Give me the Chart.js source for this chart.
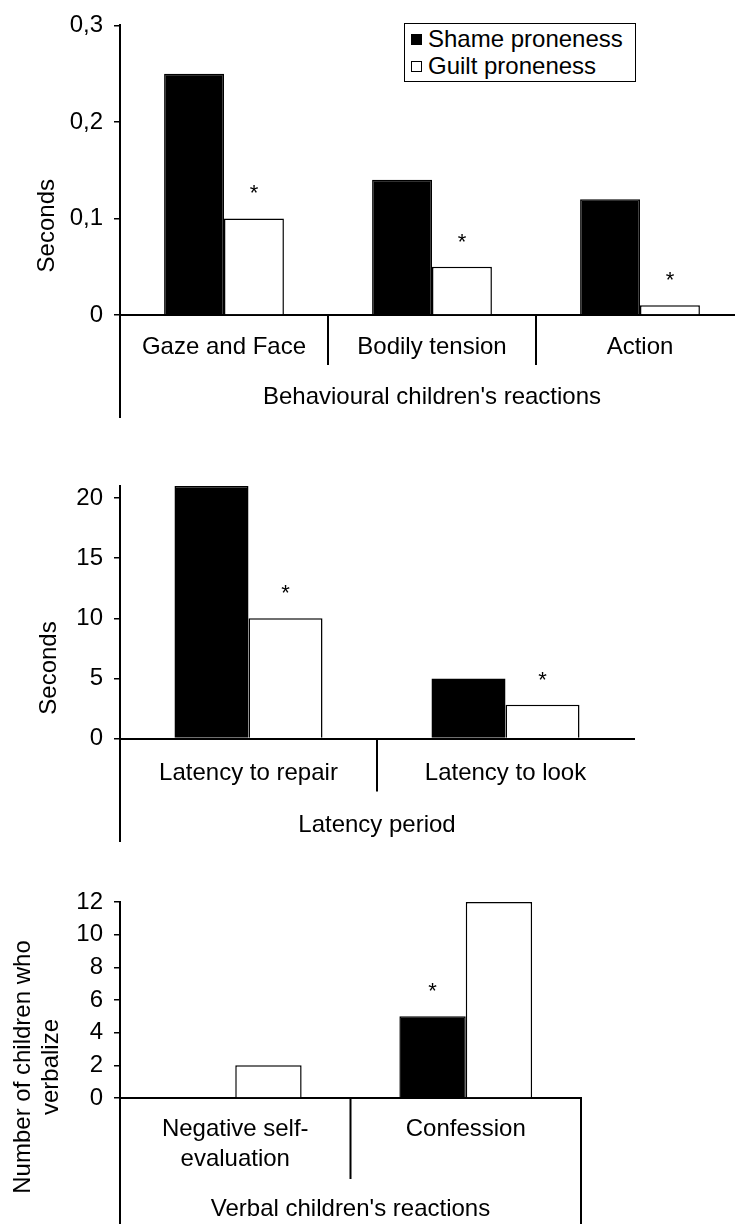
<!DOCTYPE html>
<html>
<head>
<meta charset="utf-8">
<script src="https://cdn.jsdelivr.net/npm/chart.js@4.4.0/dist/chart.umd.min.js"></script>
<style>
  body { margin: 0; background: #fff; }
  #page { position: relative; width: 735px; height: 1224px; overflow: hidden; }
  canvas { position: absolute; left: 0; }
  #legend {
    position: absolute; left: 404px; top: 23px; width: 232px; height: 59px;
    box-sizing: border-box; border: 1.5px solid #000; background: #fff;
    font: 24px 'Liberation Sans', Arial, sans-serif; line-height: 27px; padding-top: 1px;
  }
  #legend div { white-space: nowrap; }
  #legend span { display: inline-block; width: 9px; height: 9px; border: 1.5px solid #000; margin: 0 6px 0 6px; vertical-align: 2px; }
</style>
</head>
<body>
<div id="page">
  <canvas id="behav" width="744" height="418" style="top:0px"></canvas>
  <canvas id="latency" width="735" height="402" style="top:440px"></canvas>
  <canvas id="verbal" width="735" height="364" style="top:860px"></canvas>
  <div id="legend"></div>
</div>
<script>
// series
const seriesNames = ['Shame proneness', 'Guilt proneness'];
const seriesColors = ['#000000', '#ffffff'];

// behavioural reactions (seconds)
const behavCategories = ['Gaze and Face', 'Bodily tension', 'Action'];
const behavShame = [0.25, 0.14, 0.12];
const behavGuilt = [0.10, 0.05, 0.01];
const behavTicks = ['0', '0,1', '0,2', '0,3'];
const behavStars = [[1, 0], [1, 1], [1, 2]];

// latency period (seconds)
const latCategories = ['Latency to repair', 'Latency to look'];
const latShame = [21, 5];
const latGuilt = [10, 2.8];
const latStars = [[1, 0], [1, 1]];

// verbal reactions (number of children)
const verbCategories = [['Negative self-', 'evaluation'], 'Confession'];
const verbShame = [0, 5];
const verbGuilt = [2, 12];
const verbStars = [[0, 1]];

const FONT = "'Liberation Sans', Arial, sans-serif";
Chart.defaults.font.family = FONT;
Chart.defaults.color = '#000';

// excel style frame: axis running down through the labels, separators, stars, y title
const framePlugin = {
  id: 'frame',
  afterDraw(chart, args, opts) {
    const ctx = chart.ctx;
    const area = chart.chartArea;
    const xs = chart.scales.x;
    const h = chart.height;
    ctx.save();
    ctx.strokeStyle = '#000';
    ctx.lineWidth = 2;
    ctx.beginPath();
    ctx.moveTo(area.left, area.bottom);
    ctx.lineTo(area.left, h);
    for (let i = 1; i < xs.ticks.length; i++) {
      const sx = (xs.getPixelForTick(i - 1) + xs.getPixelForTick(i)) / 2;
      ctx.moveTo(sx, area.bottom);
      ctx.lineTo(sx, area.bottom + opts.sepLength);
    }
    if (opts.closeRight) {
      ctx.moveTo(area.right, area.bottom);
      ctx.lineTo(area.right, h);
    }
    ctx.stroke();

    // significance stars over the bars
    ctx.fillStyle = '#000';
    ctx.textAlign = 'center';
    ctx.font = '22px ' + FONT;
    ctx.textBaseline = 'alphabetic';
    opts.stars.forEach(([d, i]) => {
      const bar = chart.getDatasetMeta(d).data[i];
      ctx.fillText('*', bar.x, bar.y - 18);
    });

    ctx.font = '24px ' + FONT;
    ctx.textBaseline = 'middle';
    const cy = (area.top + h) / 2 + 4;
    opts.yTitle.forEach((line, k) => {
      ctx.save();
      ctx.translate(opts.yTitleX[k], cy);
      ctx.rotate(-Math.PI / 2);
      ctx.fillText(line, 0, 0);
      ctx.restore();
    });
    ctx.restore();
  }
};

function buildChart(id, p) {
  const canvas = document.getElementById(id);
  return new Chart(canvas, {
    type: 'bar',
    data: {
      labels: p.labels,
      datasets: [
        { label: seriesNames[0], data: p.shame, backgroundColor: seriesColors[0], borderColor: '#000', borderWidth: 1.5 },
        { label: seriesNames[1], data: p.guilt, backgroundColor: seriesColors[1], borderColor: '#000', borderWidth: 1.5 }
      ]
    },
    options: {
      responsive: false,
      animation: false,
      devicePixelRatio: 1,
      datasets: { bar: { categoryPercentage: 0.576, barPercentage: 1 } },
      layout: { padding: { top: p.top, right: p.right, left: 0, bottom: 0 } },
      plugins: {
        legend: { display: false },
        tooltip: { enabled: false },
        frame: { sepLength: p.sepLength, closeRight: p.closeRight, stars: p.stars, yTitle: p.yTitle, yTitleX: p.yTitleX }
      },
      scales: {
        x: {
          grid: { display: false, drawTicks: false },
          border: { color: '#000', width: 2 },
          ticks: { color: '#000', padding: p.labelPad, maxRotation: 0, autoSkip: false, font: { size: 24, lineHeight: 1.25 } },
          title: { display: true, text: p.xTitle, color: '#000', font: { size: 24 }, padding: { top: 0, bottom: p.titlePad } },
          afterFit: s => { s.height = canvas.height - p.bottom; }
        },
        y: {
          min: 0,
          max: p.max,
          grid: { drawOnChartArea: false, color: '#000', lineWidth: 1.5, tickLength: 6 },
          border: { color: '#000', width: 2 },
          ticks: { stepSize: p.step, includeBounds: false, color: '#000', padding: 11, font: { size: 24 }, callback: p.tickFmt },
          afterFit: s => { s.width = 120; }
        }
      }
    },
    plugins: [framePlugin]
  });
}

buildChart('behav', {
  labels: behavCategories, shame: behavShame, guilt: behavGuilt, stars: behavStars,
  max: 0.3, step: 0.1, tickFmt: (v, i) => behavTicks[i],
  top: 19, right: 0, bottom: 315, labelPad: 17, titlePad: 6, sepLength: 50, closeRight: false,
  xTitle: "Behavioural children's reactions", yTitle: ['Seconds'], yTitleX: [47]
});

buildChart('latency', {
  labels: latCategories, shame: latShame, guilt: latGuilt, stars: latStars,
  max: 21, step: 5, tickFmt: v => String(v),
  top: 46, right: 101, bottom: 298.5, labelPad: 19.5, titlePad: 2.6, sepLength: 53, closeRight: false,
  xTitle: 'Latency period', yTitle: ['Seconds'], yTitleX: [49]
});

buildChart('verbal', {
  labels: verbCategories, shame: verbShame, guilt: verbGuilt, stars: verbStars,
  max: 12, step: 2, tickFmt: v => String(v),
  top: 42, right: 154, bottom: 238, labelPad: 16, titlePad: 0.6, sepLength: 81, closeRight: true,
  xTitle: "Verbal children's reactions", yTitle: ['Number of children who', 'verbalize'], yTitleX: [23, 51]
});

// legend box of the first panel
const legend = document.getElementById('legend');
seriesNames.forEach((name, i) => {
  const row = document.createElement('div');
  const sw = document.createElement('span');
  sw.style.background = seriesColors[i];
  row.appendChild(sw);
  row.appendChild(document.createTextNode(name));
  legend.appendChild(row);
});
</script>
</body>
</html>
